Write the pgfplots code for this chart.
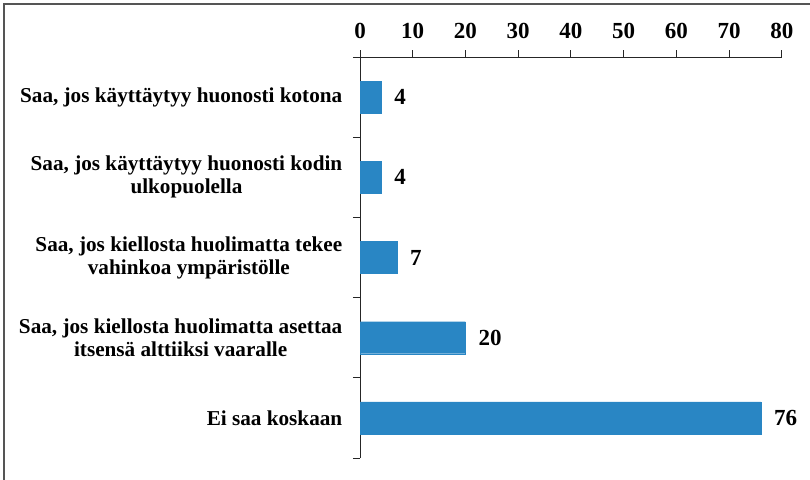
\documentclass[border=0pt]{standalone}
\usepackage{pgfplots}
\pgfplotsset{compat=1.18}
\usepackage{fontspec}
\setmainfont{Liberation Serif}

\definecolor{barblue}{RGB}{41,134,196}
\definecolor{framegray}{RGB}{85,85,85}

\begin{document}
\begin{tikzpicture}
\useasboundingbox (0,0) rectangle (810bp,480bp);
% frame: only top and left edges are visible
\draw[framegray, line width=2bp] (4bp,0) -- (4bp,476bp) -- (810bp,476bp);

\begin{axis}[
    at={(360bp,22bp)}, anchor=south west,
    scale only axis,
    width=422bp, height=401bp,
    xbar, bar width=32bp,
    xmin=0, xmax=80,
    ymin=-0.5, ymax=4.5,
    axis x line*=top,
    axis y line*=left,
    axis line style={black!85, line width=1bp},
    tick style={black!85, line width=1bp},
    tick align=outside,
    major tick length=7bp,
    xtick={0,10,...,80},
    ytick={-0.5,0.5,...,4.5},
    y tick label as interval,
    yticklabels={
        {Ei saa koskaan},
        {Saa, jos kiellosta huolimatta asettaa\\itsensä alttiiksi vaaralle},
        {Saa, jos kiellosta huolimatta tekee\\vahinkoa ympäristölle},
        {Saa, jos käyttäytyy huonosti kodin\\ulkopuolella},
        {Saa, jos käyttäytyy huonosti kotona}},
    xticklabel style={font=\fontsize{23bp}{24bp}\selectfont\bfseries, inner sep=0pt, anchor=south, yshift=11bp},
    yticklabel style={font=\fontsize{21.2bp}{23bp}\selectfont\bfseries, align=center, inner sep=0pt, anchor=east, xshift=-10.5bp},
    /pgf/number format/assume math mode=true,
    nodes near coords,
    every node near coord/.append style={font=\fontsize{23bp}{24bp}\selectfont\bfseries, anchor=west, inner sep=0pt, xshift=13bp},
    clip=false,
]
\addplot[fill=barblue, draw=barblue] coordinates {(76,0) (20,1) (7,2) (4,3) (4,4)};
\end{axis}
\end{tikzpicture}
\end{document}
